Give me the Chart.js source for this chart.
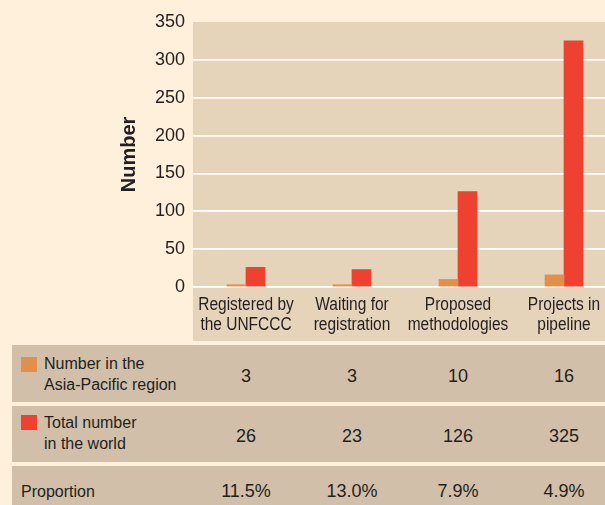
<!DOCTYPE html>
<html>
<head>
<meta charset="utf-8">
<script src="https://cdn.jsdelivr.net/npm/chart.js@4.4.0/dist/chart.umd.min.js"></script>
<style>
  html, body { margin: 0; padding: 0; }
  body {
    width: 605px; height: 505px; overflow: hidden; position: relative;
    background: #FEF0DA; color: #231F20;
    font-family: "Liberation Sans", Arial, Helvetica, sans-serif;
  }
  #wrap { position: absolute; left: 0; top: 0; width: 617px; height: 345px; }
  .cat {
    position: absolute; top: 294px; font-size: 18px; line-height: 20px;
    text-align: center; white-space: nowrap;
    transform: translateX(-50%) scaleX(0.86);
  }
  .row { position: absolute; left: 12px; width: 605px; background: #D1BFA9; }
  .sw { position: absolute; left: 9px; width: 16px; height: 15px; }
  .label { position: absolute; left: 32px; font-size: 16px; line-height: 21px; white-space: nowrap; }
  .cell { position: absolute; font-size: 18px; line-height: 21px; white-space: nowrap; transform: translateX(-50%); }
</style>
</head>
<body>
<div id="wrap"><canvas id="chart" width="617" height="345"></canvas></div>
<div id="cats"></div>
<div id="table"></div>
<script>
// categories (x axis), two lines each
const categories = [
  ['Registered by', 'the UNFCCC'],
  ['Waiting for', 'registration'],
  ['Proposed', 'methodologies'],
  ['Projects in', 'pipeline']
];
const asiaPacific = [3, 3, 10, 16];
const world = [26, 23, 126, 325];
const proportion = ['11.5%', '13.0%', '7.9%', '4.9%'];
const seriesNames = [
  ['Number in the', 'Asia-Pacific region'],
  ['Total number', 'in the world']
];
const yMin = 0, yMax = 350, yStep = 50;

const ORANGE = '#E28F4C';
const RED = '#EF4130';
const TEXT = '#231F20';
const sans = '"Liberation Sans", Arial, sans-serif';

// tan panel behind plot area and category labels
const panelBg = {
  id: 'panelBg',
  beforeDraw(chart) {
    const { ctx, chartArea } = chart;
    ctx.save();
    ctx.fillStyle = '#E5D3BA';
    ctx.fillRect(chartArea.left, chartArea.top, chart.width - chartArea.left, chart.height - 4 - chartArea.top);
    ctx.restore();
  }
};

const chart = new Chart(document.getElementById('chart'), {
  type: 'bar',
  data: {
    labels: categories,
    datasets: [
      { label: seriesNames[0].join(' '), data: asiaPacific, backgroundColor: ORANGE, barThickness: 19 },
      { label: seriesNames[1].join(' '), data: world, backgroundColor: RED, barThickness: 19 }
    ]
  },
  options: {
    responsive: false,
    animation: false,
    layout: { padding: { top: 22, left: 0, right: 0, bottom: 0 } },
    plugins: { legend: { display: false }, tooltip: { enabled: false } },
    scales: {
      x: {
        grid: { display: false, drawTicks: false },
        border: { display: false },
        ticks: { display: false },
        // room for the condensed category labels (drawn as html below)
        afterFit: s => { s.height = 58; }
      },
      y: {
        min: yMin, max: yMax,
        border: { display: false },
        grid: {
          color: c => (c.tick && c.tick.value === yMax) ? 'rgba(0,0,0,0)' : '#FFFFFF',
          lineWidth: 1.8, drawTicks: false
        },
        ticks: {
          stepSize: yStep, color: TEXT, padding: 8,
          font: { family: sans, size: 18 }
        },
        title: {
          display: true, text: 'Number', color: TEXT,
          font: { family: sans, size: 20, weight: 'bold' },
          padding: { top: 117, bottom: 0 }
        },
        afterFit: s => { s.width = 193; }
      }
    }
  },
  plugins: [panelBg]
});

const xs = chart.scales.x;

// category labels, centred on the category ticks
const cats = document.getElementById('cats');
categories.forEach((lines, i) => {
  const d = document.createElement('div');
  d.className = 'cat';
  d.style.left = xs.getPixelForTick(i) + 'px';
  d.innerHTML = lines.join('<br>');
  cats.appendChild(d);
});

// data table under the chart, columns aligned on the category axis
const table = document.getElementById('table');
const rows = [
  { top: 345, height: 57, swatch: ORANGE, swTop: 12, labelTop: 7.5, valTop: 20.5, name: seriesNames[0], values: asiaPacific },
  { top: 406, height: 56, swatch: RED, swTop: 9, labelTop: 5.5, valTop: 19.5, name: seriesNames[1], values: world },
  { top: 466, height: 50, swatch: null, labelTop: 14.5, valTop: 14.5, name: ['Proportion'], values: proportion }
];
rows.forEach(r => {
  const row = document.createElement('div');
  row.className = 'row';
  row.style.top = r.top + 'px';
  row.style.height = r.height + 'px';
  if (r.swatch) {
    const sw = document.createElement('div');
    sw.className = 'sw';
    sw.style.top = r.swTop + 'px';
    sw.style.background = r.swatch;
    row.appendChild(sw);
  }
  const lab = document.createElement('div');
  lab.className = 'label';
  lab.style.top = r.labelTop + 'px';
  if (!r.swatch) lab.style.left = '9px';
  lab.innerHTML = r.name.join('<br>');
  row.appendChild(lab);
  r.values.forEach((v, i) => {
    const c = document.createElement('div');
    c.className = 'cell';
    c.style.top = r.valTop + 'px';
    c.style.left = (xs.getPixelForTick(i) - 12) + 'px';
    c.textContent = v;
    row.appendChild(c);
  });
  table.appendChild(row);
});
</script>
</body>
</html>
